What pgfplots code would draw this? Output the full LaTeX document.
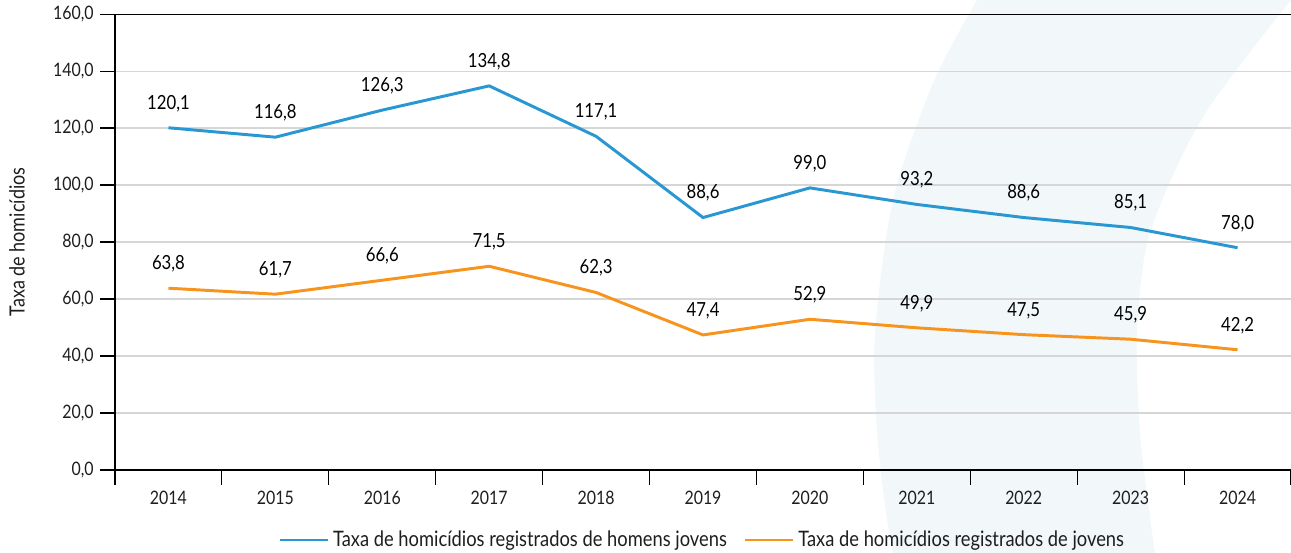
\documentclass[border=0pt]{standalone}
\usepackage{fontspec}
\setmainfont{Lato}[FakeStretch=0.86]
\usepackage{pgfplots}
\pgfplotsset{compat=1.18}
\definecolor{cblue}{RGB}{41,152,210}
\definecolor{corange}{RGB}{247,148,30}
\definecolor{arcbg}{RGB}{242,247,250}
\definecolor{txt}{RGB}{30,30,30}
\begin{document}
\begin{tikzpicture}
\useasboundingbox (-62.1pt,-44.8pt) rectangle (635pt,253.8pt);
\begin{scope}[x=1pt,y=1pt]
\fill[arcbg] plot[smooth] coordinates {(465.5,253.8) (441.7,209.0) (420.1,145.8) (410.4,74.0) (411.5,20.0) (416.9,-27.0) (420.1,-44.8)}
  -- plot[smooth] coordinates {(561.6,-44.8) (558.9,-25.4) (553.5,20.0) (551.9,74.0) (558.9,128.0) (587.5,190.6) (635.0,253.8)} -- cycle;
\end{scope}
\begin{axis}[
  at={(0,0)}, anchor=south west,
  scale only axis, width=635pt, height=246.2pt,
  xmin=-0.5, xmax=10.5, ymin=0, ymax=160,
  axis x line*=bottom, axis y line*=left,
  axis line style={line width=0.8pt, black},
  tick align=outside,
  xtick={0,...,10},
  xticklabels={2014,2015,2016,2017,2018,2019,2020,2021,2022,2023,2024},
  major x tick style={draw=none},
  minor xtick={-0.5,0.5,...,10.5},
  ytick={0,20,...,160},
  major tick length=8pt, minor tick length=8pt,
  tick style={black, line width=0.6pt},
  ymajorgrids, grid style={black!16, line width=0.6pt},
  /pgf/number format/.cd, fixed, fixed zerofill, precision=1, use comma, 1000 sep={}, assume math mode=true,
  /pgfplots/.cd,
  ticklabel style={font=\fontsize{10}{12}\selectfont, text=txt},
  ylabel={Taxa de homicídios},
  ylabel style={at={(axis description cs:-0.0833,0.5)}, anchor=center, font=\fontsize{11.3}{13}\selectfont, text=txt},
  nodes near coords,
  every node near coord/.append style={font=\fontsize{10.5}{12}\selectfont, text=black, anchor=south, yshift=4.5pt},
  legend columns=2,
  legend style={at={(0.5,-0.1535)}, anchor=center, draw=none, fill=none,
    font=\fontsize{11.5}{13}\selectfont, text=txt,
    /tikz/every even column/.append style={column sep=7pt}},
  legend image code/.code={\draw[#1, line width=1.6pt] (0pt,0pt) -- (26pt,0pt);},
]
\addplot[cblue, line width=1.6pt, mark=none] coordinates {
(0,120.1) (1,116.8) (2,126.3) (3,134.8) (4,117.1) (5,88.6) (6,99.0) (7,93.2) (8,88.6) (9,85.1) (10,78.0)};
\addlegendentry{Taxa de homicídios registrados de homens jovens}
\addplot[corange, line width=1.6pt, mark=none] coordinates {
(0,63.8) (1,61.7) (2,66.6) (3,71.5) (4,62.3) (5,47.4) (6,52.9) (7,49.9) (8,47.5) (9,45.9) (10,42.2)};
\addlegendentry{Taxa de homicídios registrados de jovens}
\draw[line width=0.8pt, black] (rel axis cs:0,1) -- (rel axis cs:1,1);
\end{axis}
\end{tikzpicture}
\end{document}
